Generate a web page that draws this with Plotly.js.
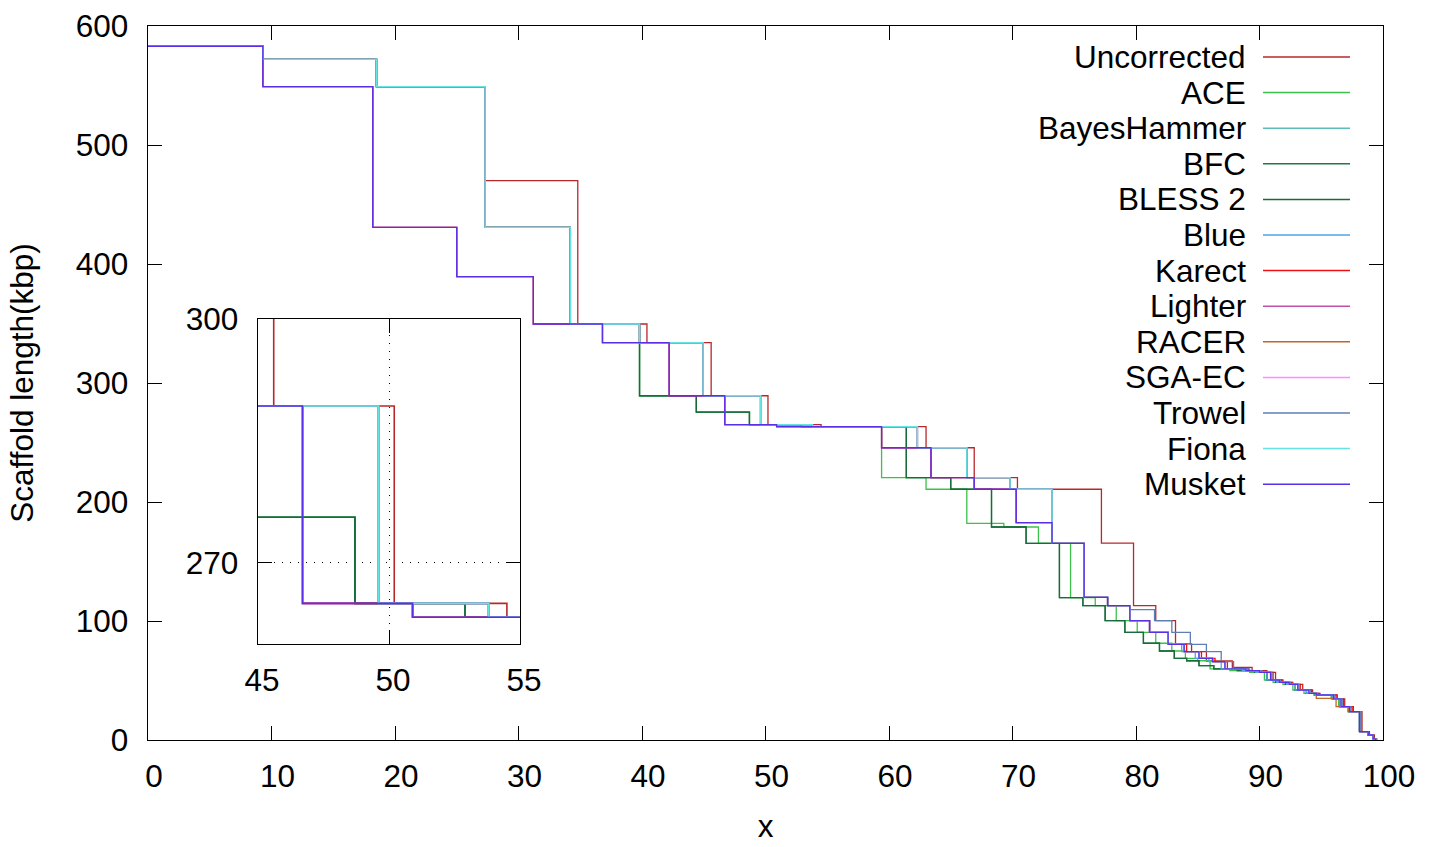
<!DOCTYPE html>
<html>
<head>
<meta charset="utf-8">
<script src="https://cdn.plot.ly/plotly-3.0.1.min.js"></script>
<style>
html,body{margin:0;padding:0;background:#fff;}
#chart{width:1435px;height:847px;}
</style>
</head>
<body>
<div id="chart"></div>
<script>
// ---------------- DATA ----------------
const seriesNames = ["Uncorrected","ACE","BayesHammer","BFC","BLESS 2","Blue","Karect","Lighter","RACER","SGA-EC","Trowel","Fiona","Musket"];
const seriesColors = ["#b8282a","#3cc24a","#5cbcbc","#1f7a45","#186b3a","#4ea5e6","#ee1111","#c34fa6","#c0662a","#ff8cff","#5d7fb5","#66e3e3","#5b2ee8"];

// x = cumulative % of assembly, y = scaffold length (kbp); each point = left edge of a step
const uncorrectedX = [0,9.3,18.5,27.3,34.8,40.4,45.6,50.2,54.5,63.0,66.9,70.4,77.2,79.8,81.6,83.2,84.5,85.7,87.8,89.4,90.6,91.3,91.9,92.7,93.5,94.3,94.9,96.3,96.9,97.6,98.3,98.9,99.3,99.5];
const uncorrectedY = [583,572,549,470,349.6,334,289.3,265,263.3,245.6,220.4,210.7,165.5,112.9,100.3,80.7,74.2,66.4,61.1,58.3,56.9,50.4,48.5,46.8,42,39.2,37.8,34.5,28,23.8,7,4.2,1,0];

const aceX = [0,9.3,18.5,27.3,34.2,39.8,44.4,48.7,50.9,59.4,63.0,66.3,69.3,72.1,74.7,76.7,78.4,80.1,81.6,82.9,84.0,85.0,86.0,87.6,89.2,90.4,91.1,91.9,92.7,93.6,94.4,95.8,96.4,97.2,98.1,98.8,99.2,99.4];
const aceY = [583,572,549,430.8,349.6,289.3,275.6,265,263.3,220.4,210.7,182.1,179,165.3,119.6,112.9,100.3,90.5,81.3,74.8,68.6,66.6,59.7,58.3,56.9,50.4,48.5,46.8,42,39.2,37.8,34.5,28,23.8,7,4.2,1,0];

const bayesHammerX = [0,9.3,18.5,27.3,34.2,39.8,44.95,49.6,53.8,62.3,66.3,69.8,73.2,75.8,77.7,79.5,81.1,82.6,83.9,85.1,86.2,87.2,88.9,90.0,90.9,91.6,92.4,93.1,94.0,94.6,96.0,96.6,97.3,98.1,98.8,99.2,99.4];
const bayesHammerY = [583,572,549,430.8,349.6,334,289.3,265,263.3,245.6,220.4,210.7,165.3,119.9,112.9,100.3,90.5,80.4,74.2,68.6,65.8,59.7,58.3,56.9,50.4,48.5,46.8,42,39.2,37.8,34.5,28,23.8,7,4.2,1,0];

const bfcX = [0,9.3,18.5,27.3,34.2,39.8,44.4,48.7,52.9,61.4,65.0,68.3,71.1,73.8,75.7,77.5,79.1,80.6,81.9,83.1,84.1,85.1,86.3,88.2,89.6,90.6,91.3,92.1,92.9,93.8,94.5,95.9,96.5,97.2,98.1,98.8,99.2,99.4];
const bfcY = [583,572,549,430.8,349.6,289.3,275.6,265,263.3,220.4,210.7,179,165.3,119.6,112.9,100.3,90.5,81.3,74.8,68.6,66.6,62.5,59.7,58.3,56.9,50.4,48.5,46.8,42,39.2,37.8,34.5,28,23.8,7,4.2,1,0];

const bless2X = [0,9.3,18.5,27.3,34.2,39.8,44.4,48.7,52.9,61.4,65.0,68.3,71.1,73.8,75.7,77.5,79.1,80.6,81.9,83.1,84.1,85.1,86.3,88.2,89.6,90.6,91.3,92.1,92.9,93.8,94.5,95.9,96.5,97.2,98.1,98.8,99.2,99.4];
const bless2Y = [583,572,549,430.8,349.6,289.3,275.6,265,263.3,220.4,210.7,179,165.3,119.6,112.9,100.3,90.5,81.3,74.8,68.6,66.6,62.5,59.7,58.3,56.9,50.4,48.5,46.8,42,39.2,37.8,34.5,28,23.8,7,4.2,1,0];

const blueX = [0,9.3,18.5,27.3,34.2,39.8,44.95,49.6,53.8,62.3,66.3,69.8,73.2,75.8,77.7,79.5,81.1,82.6,83.7,84.8,85.9,86.9,88.6,89.7,90.6,91.4,92.2,92.9,93.8,94.5,95.9,96.5,97.2,98.1,98.8,99.2,99.4];
const blueY = [583,572,549,430.8,349.6,334,289.3,265,263.3,245.6,220.4,210.7,165.3,119.9,112.9,100.3,90.5,80.4,74.2,68.6,65.8,59.7,58.3,56.9,50.4,48.5,46.8,42,39.2,37.8,34.5,28,23.8,7,4.2,1,0];

const karectX = [0,9.3,18.2,25.0,31.2,36.8,42.2,46.7,50.9,59.4,63.4,66.9,70.3,73.2,75.8,77.7,79.5,81.1,82.6,84.1,85.3,86.4,87.4,89.1,90.2,91.1,91.8,92.6,93.3,94.2,94.8,96.2,96.8,97.5,98.2,98.8,99.2,99.4];
const karectY = [583,549,430.8,389.4,349.6,334,289.3,265,263.3,245.6,220.4,210.7,182.6,165.3,119.9,112.9,100.3,90.5,80.4,74.2,68.6,65.8,59.7,58.3,56.9,50.4,48.5,46.8,42,39.2,37.8,34.5,28,23.8,7,4.2,1,0];

const lighterX = [0,9.3,18.2,25.0,31.2,36.8,42.2,46.7,50.9,59.4,63.4,66.9,70.3,73.2,75.8,77.7,79.5,81.1,82.6,83.9,85.1,86.2,87.2,88.9,90.0,90.9,91.6,92.4,93.1,94.0,94.6,96.0,96.6,97.3,98.1,98.8,99.2,99.4];
const lighterY = [583,549,430.8,389.4,349.6,334,289.3,265,263.3,245.6,220.4,210.7,182.6,165.3,119.9,112.9,100.3,90.5,80.4,74.2,68.6,65.8,59.7,58.3,56.9,50.4,48.5,46.8,42,39.2,37.8,34.5,28,23.8,7,4.2,1,0];

const racerX = [0,9.3,18.5,27.3,34.2,39.8,44.95,49.6,53.8,62.3,66.3,69.8,73.2,75.8,77.7,79.5,81.1,82.6,83.9,85.1,86.2,87.2,88.9,90.0,90.9,91.6,92.4,93.1,94.0,94.6,96.2,97.2,98.2,98.8,99.2,99.4];
const racerY = [583,572,549,430.8,349.6,334,289.3,265,263.3,245.6,220.4,210.7,165.3,119.9,112.9,100.3,90.5,80.4,74.2,68.6,65.8,59.7,58.3,56.9,50.4,48.5,46.8,42,39.2,35,28,23.8,7,4.2,1,0];

const sgaEcX = [0,9.3,18.5,27.3,34.2,39.8,44.95,49.6,53.8,62.3,66.3,69.8,73.2,75.8,77.7,79.5,81.1,82.6,83.9,85.1,86.2,87.2,88.9,90.0,90.9,91.6,92.4,93.1,94.0,94.6,96.0,96.6,97.3,98.1,98.8,99.2,99.4];
const sgaEcY = [583,572,549,430.8,349.6,334,289.3,265,263.3,245.6,220.4,210.7,165.3,119.9,112.9,100.3,90.5,80.4,74.2,68.6,65.8,59.7,58.3,56.9,50.4,48.5,46.8,42,39.2,37.8,34.5,28,23.8,7,4.2,1,0];

const trowelX = [0,9.3,18.5,27.3,34.2,39.8,44.95,49.6,53.8,62.3,66.3,69.8,73.2,75.8,77.7,79.5,81.5,82.9,84.4,85.7,86.9,87.9,89.2,90.2,91.0,91.7,92.5,93.2,94.1,94.7,96.1,96.7,97.4,98.2,98.8,99.2,99.4];
const trowelY = [583,572,549,430.8,349.6,334,289.3,265,263.3,245.6,220.4,210.7,165.3,119.9,112.9,109.6,100.3,90.5,80.4,74.2,65.8,59.7,58.3,56.9,50.4,48.5,46.8,42,39.2,37.8,34.5,28,23.8,7,4.2,1,0];

const fionaX = [0,9.3,18.5,27.3,34.2,39.8,44.95,49.6,53.8,62.3,66.3,69.8,73.2,75.8,77.7,79.5,81.1,82.6,83.9,85.1,86.2,87.2,88.9,90.0,90.9,91.6,92.4,93.1,94.0,94.6,96.0,96.6,97.3,98.1,98.8,99.2,99.4];
const fionaY = [583,572,549,430.8,349.6,334,289.3,265,263.3,245.6,220.4,210.7,165.3,119.9,112.9,100.3,90.5,80.4,74.2,68.6,65.8,59.7,58.3,56.9,50.4,48.5,46.8,42,39.2,37.8,34.5,28,23.8,7,4.2,1,0];

const musketX = [0,9.3,18.2,25.0,31.2,36.8,42.2,46.7,50.9,59.4,63.4,66.9,70.3,73.2,75.8,77.7,79.5,81.1,82.6,83.9,85.1,86.2,87.2,88.9,90.0,90.9,91.6,92.4,93.1,94.0,94.6,96.0,96.6,97.3,98.1,98.8,99.2,99.4];
const musketY = [583,549,430.8,389.4,349.6,334,289.3,265,263.3,245.6,220.4,210.7,182.6,165.3,119.9,112.9,100.3,90.5,80.4,74.2,68.6,65.8,59.7,58.3,56.9,50.4,48.5,46.8,42,39.2,37.8,34.5,28,23.8,7,4.2,1,0];

const mainXTicks = [0,10,20,30,40,50,60,70,80,90,100];
const mainYTicks = [0,100,200,300,400,500,600];
const insetXTicks = [45,50,55];
const insetYTicks = [270,300];

// ---------------- CHART ----------------
const seriesData = [
  [uncorrectedX, uncorrectedY],[aceX, aceY],[bayesHammerX, bayesHammerY],[bfcX, bfcY],
  [bless2X, bless2Y],[blueX, blueY],[karectX, karectY],[lighterX, lighterY],
  [racerX, racerY],[sgaEcX, sgaEcY],[trowelX, trowelY],[fionaX, fionaY],[musketX, musketY]
];

const FONT = {family: "Liberation Sans, Arial, sans-serif", size: 31.5, color: "#000"};
const traces = [];
seriesNames.forEach((name, i) => {
  const [xs, ys] = seriesData[i];
  traces.push({x: xs, y: ys, type: "scatter", mode: "lines", name: name,
    line: {shape: "hv", color: seriesColors[i], width: 1.3},
    xaxis: "x", yaxis: "y", showlegend: false, hoverinfo: "skip"});
});
seriesNames.forEach((name, i) => {
  const [xs, ys] = seriesData[i];
  traces.push({x: xs, y: ys, type: "scatter", mode: "lines", name: name,
    line: {shape: "hv", color: seriesColors[i], width: 1.6},
    xaxis: "x2", yaxis: "y2", showlegend: false, hoverinfo: "skip"});
});

// pixel helpers (plot area: x 148..1383, y 26..740)
const L = 148, R = 1383, T = 26, B = 740;
const px2x = p => (p - L) / (R - L);
const py2y = p => (B - p) / (B - T);

function axisBase(extra) {
  return Object.assign({
    ticks: "inside", ticklen: 14, tickwidth: 1, tickcolor: "#000",
    mirror: "ticks", showline: true, linecolor: "#000", linewidth: 1.3,
    showgrid: false, zeroline: false, tickfont: FONT, automargin: false
  }, extra);
}

const annotations = [];
const shapes = [];
seriesNames.forEach((name, i) => {
  const py = 57 + i * 35.6;
  annotations.push({xref: "paper", yref: "paper", x: px2x(1248), y: py2y(py),
    xanchor: "right", yanchor: "middle", text: name, showarrow: false, font: FONT});
  shapes.push({type: "line", xref: "paper", yref: "paper",
    x0: px2x(1263), x1: px2x(1350), y0: py2y(py), y1: py2y(py),
    line: {color: seriesColors[i], width: 1.5}});
});

const layout = {
  width: 1435, height: 847,
  margin: {l: L, r: 1435 - R, t: T, b: 847 - B},
  paper_bgcolor: "#fff", plot_bgcolor: "#fff",
  font: FONT,
  showlegend: false,
  xaxis: axisBase({domain: [0, 1], range: [0, 100], tickvals: mainXTicks, anchor: "y",
    ticklabelstandoff: 8, ticklabelshift: 6,
    title: {text: "x", font: FONT, standoff: 22}}),
  yaxis: axisBase({domain: [0, 1], range: [0, 600], tickvals: mainYTicks, anchor: "x",
    ticklabelstandoff: 12,
    title: {text: "Scaffold length(kbp)", font: FONT, standoff: 32}}),
  xaxis2: axisBase({domain: [px2x(258), px2x(520)], range: [45, 55], tickvals: insetXTicks, anchor: "y2",
    ticklabelstandoff: 8, ticklabelshift: 4,
    showgrid: true, gridcolor: "#000", gridwidth: 1, griddash: "1px,7px"}),
  yaxis2: axisBase({domain: [py2y(644), py2y(319)], range: [260, 300], tickvals: insetYTicks, anchor: "x2",
    ticklabelstandoff: 12,
    showgrid: true, gridcolor: "#000", gridwidth: 1, griddash: "1px,7px"}),
  annotations: annotations,
  shapes: shapes
};

Plotly.newPlot("chart", traces, layout, {displayModeBar: false, staticPlot: true});
</script>
</body>
</html>
